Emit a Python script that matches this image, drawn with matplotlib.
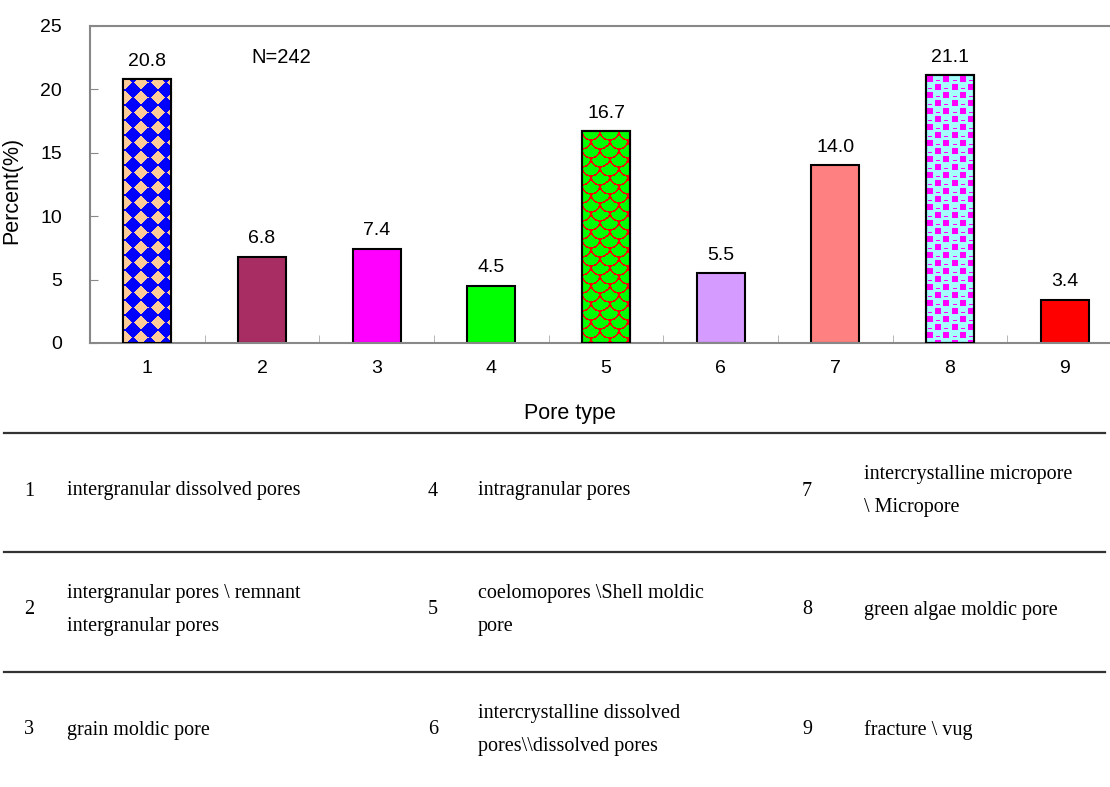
import numpy as np
import matplotlib
matplotlib.use('Agg')
import matplotlib.pyplot as plt
from matplotlib.lines import Line2D

# pore type statistics
pore_types = [1, 2, 3, 4, 5, 6, 7, 8, 9]
percent = [20.8, 6.8, 7.4, 4.5, 16.7, 5.5, 14.0, 21.1, 3.4]
bar_colors = ['#0000FF', '#A82D62', '#FF00FF', '#00FF00', '#00FF00',
              '#D59BFF', '#FF8080', '#A6FFFF', '#FF0000']
fill_style = ['diamond', None, None, None, 'scale', None, None, 'checker', None]
sample_note = 'N=242'

# legend table below the chart: (number, description) by row
table_rows = [
    [('1', 'intergranular dissolved pores'), ('4', 'intragranular pores'),
     ('7', 'intercrystalline micropore\n\\ Micropore')],
    [('2', 'intergranular pores \\ remnant\nintergranular pores'),
     ('5', 'coelomopores \\Shell moldic\npore'), ('8', 'green algae moldic pore')],
    [('3', 'grain moldic pore'),
     ('6', 'intercrystalline dissolved\npores\\\\dissolved pores'), ('9', 'fracture \\ vug')],
]

W, H = 1110, 787
fig = plt.figure(figsize=(W / 100, H / 100), dpi=100)
ax = fig.add_axes([90 / W, 1 - 343 / H, 1032 / W, 317 / H])

sans = 'Liberation Sans'
serif = 'Liberation Serif'


def texture(kind, w, h):
    u, v = np.meshgrid(np.arange(w) + 0.5, np.arange(h) + 0.5)
    img = np.zeros((h, w, 4))
    if kind == 'diamond':
        dx = (u + 6) % 16 - 8
        dy = (v + 4) % 15 - 7.5
        mask = np.abs(dx) / 8 + np.abs(dy) / 7.5 < 0.9
        img[mask] = [1.0, 0.8, 0.6, 1]
    elif kind == 'scale':
        # fish-scale arcs, alternate rows shifted by half a period
        P, R = 18.0, 9.0
        mask = np.zeros_like(u, dtype=bool)
        for k in range(-2, int(h / R) + 2):
            off = (k % 2) * P / 2
            dx = (u - off) % P - P / 2
            dy = v - k * R
            d = np.hypot(dx, dy)
            mask |= (np.abs(d - P / 2) < 0.75) & (dy >= 0)
        img[mask] = [0.95, 0.05, 0.0, 1]
    elif kind == 'checker':
        cu, cv = (u // 8).astype(int), (v // 8).astype(int)
        fu, fv = u % 8 - 4, v % 8 - 4
        even = (cu + cv) % 2 == 0
        sq = even & (np.abs(fu) < 3.0) & (np.abs(fv) < 3.0)
        dot = ~even & (np.abs(fu) < 1.6) & (fv > 0.5) & (fv < 2.5)
        img[sq | dot] = [1.0, 0.0, 1.0, 1]
    return img


ax.set_xlim(0.5, 9.5)
ax.set_ylim(0, 25)
width = 0.42
bars = ax.bar(pore_types, percent, width=width, color=bar_colors,
              edgecolor='black', linewidth=1.5, zorder=2)

for b, kind in zip(bars, fill_style):
    if kind is None:
        continue
    x0, y0 = b.get_x(), 0
    x1, y1 = x0 + b.get_width(), b.get_height()
    (px0, py0), (px1, py1) = ax.transData.transform([(x0, y0), (x1, y1)])
    img = texture(kind, int(round(px1 - px0)), int(round(py1 - py0)))
    ax.imshow(img, extent=(x0, x1, y0, y1), origin='upper', aspect='auto',
              interpolation='nearest', zorder=3)
    ax.bar(b.get_x() + width / 2, b.get_height(), width=width, facecolor='none',
           edgecolor='black', linewidth=1.5, zorder=4)
ax.set_xlim(0.5, 9.5)
ax.set_ylim(0, 25)

for xi, val in zip(pore_types, percent):
    ax.annotate(f'{val:.1f}', (xi, val), xytext=(0, 7), textcoords='offset points',
                ha='center', va='bottom', fontsize=14, family=sans)

ax.text(2.17, 22.55, sample_note, ha='center', va='center', fontsize=14.5, family=sans)

ax.spines['right'].set_visible(False)
for side in ['left', 'top', 'bottom']:
    ax.spines[side].set_color('#888888')
    ax.spines[side].set_linewidth(1.5)

ax.set_yticks([0, 5, 10, 15, 20, 25])
ax.set_xticks(pore_types)
ax.set_xticks(np.arange(1.5, 9.5, 1), minor=True)
ax.tick_params(axis='y', direction='in', length=6, color='#888888', pad=20,
               labelsize=14)
ax.tick_params(axis='x', which='major', length=0, pad=12, labelsize=14)
ax.tick_params(axis='x', which='minor', direction='in', length=6, color='#aaaaaa')
for lab in ax.get_xticklabels() + ax.get_yticklabels():
    lab.set_family(sans)
ax.set_xlabel('Pore type', fontsize=15.5, family=sans)
ax.set_ylabel('Percent(%)', fontsize=15.5, family=sans)
ax.xaxis.set_label_coords((570 - 90) / 1032, -(403 - 343) / 317)
ax.yaxis.set_label_coords(-(90 - 22) / 1032, (343 - 190) / 317)

# table rules and entries (pixel layout converted to figure fractions)
for yl in [433, 552, 672]:
    fig.add_artist(Line2D([4 / W, 1105 / W], [1 - yl / H, 1 - yl / H],
                          color='#333333', linewidth=1.6))

num_x = [29, 433, 807]
txt_x = [67, 478, 864]
row_y = [491, 610, 730]
for r, row in enumerate(table_rows):
    for c, (num, desc) in enumerate(row):
        fig.text(num_x[c] / W, 1 - row_y[r] / H, num, ha='center', va='center',
                 fontsize=14.5, family=serif)
        fig.text(txt_x[c] / W, 1 - row_y[r] / H, desc, ha='left', va='center',
                 fontsize=14.5, family=serif, linespacing=2.0)

fig.savefig('out.png', dpi=100)
